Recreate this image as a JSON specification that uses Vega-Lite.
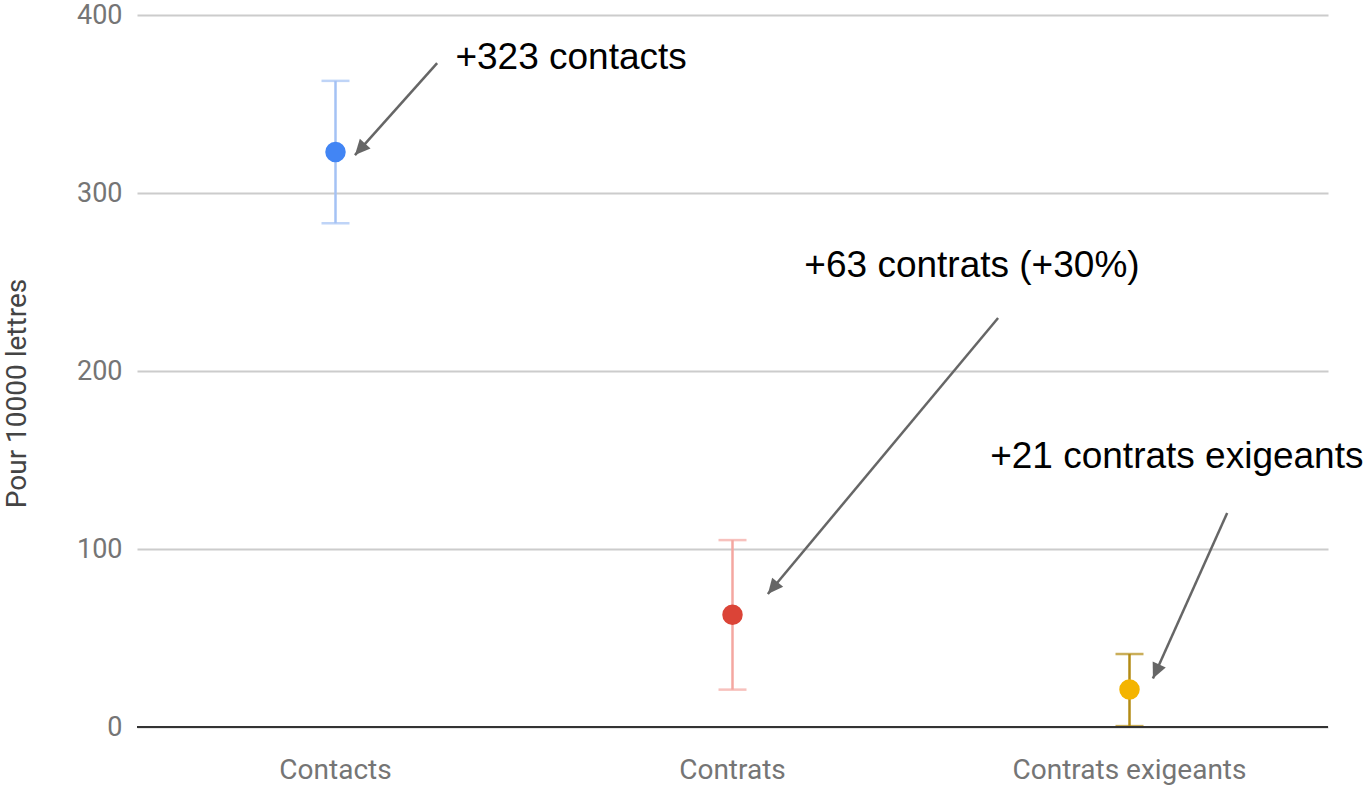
{
  "$schema": "https://vega.github.io/schema/vega-lite/v6.json",
  "width": 1191,
  "height": 712,
  "autosize": {"type": "none"},
  "padding": {"left": 137, "top": 15, "right": 41, "bottom": 59},
  "background": "white",
  "config": {"view": {"stroke": null}},
  "datasets": {
    "main": [
      {"cat": "Contacts", "value": 323, "low": 283, "high": 363},
      {"cat": "Contrats", "value": 63, "low": 21, "high": 105},
      {"cat": "Contrats exigeants", "value": 21, "low": 0.5, "high": 41}
    ],
    "arrows": [
      {"x": 0.756, "y": 373, "x2": 0.549, "y2": 321.3, "angle": 221.7},
      {"x": 2.169, "y": 229.8, "x2": 1.589, "y2": 74.7, "angle": 219.8},
      {"x": 2.746, "y": 120.2, "x2": 2.559, "y2": 27.2, "angle": 204.2}
    ],
    "labels": [
      {"x": 0.802, "y": 369.7, "text": "+323 contacts"},
      {"x": 1.681, "y": 252.8, "text": "+63 contrats (+30%)"},
      {"x": 2.149, "y": 145.5, "text": "+21 contrats exigeants"}
    ]
  },
  "resolve": {"scale": {"x": "independent"}},
  "layer": [
    {
      "data": {"name": "main"},
      "encoding": {
        "x": {
          "field": "cat", "type": "nominal", "sort": null,
          "scale": {"paddingInner": 0, "paddingOuter": 0},
          "axis": {
            "title": null, "labelAngle": 0, "domain": false, "ticks": false,
            "labelFont": "Roboto", "labelFontSize": 28, "labelColor": "#757575",
            "labelPadding": 29, "labelLimit": 0
          }
        },
        "y": {
          "type": "quantitative",
          "scale": {"domain": [0, 400]},
          "axis": {
            "title": "Pour 10000 lettres", "values": [0, 100, 200, 300, 400],
            "titleFont": "Roboto", "titleFontSize": 28, "titleFontWeight": "normal",
            "titleColor": "#444444", "titlePadding": 45, "titleY": 378,
            "labelFont": "Roboto", "labelFontSize": 27, "labelColor": "#757575",
            "labelPadding": 15, "domain": false, "ticks": false,
            "gridColor": "#cccccc", "gridWidth": 2
          }
        }
      },
      "layer": [
        {
          "mark": {"type": "rule", "strokeWidth": 2.5},
          "encoding": {
            "y": {"field": "low", "type": "quantitative"},
            "y2": {"field": "high"},
            "color": {"field": "cat", "type": "nominal", "legend": null,
              "scale": {"domain": ["Contacts", "Contrats", "Contrats exigeants"], "range": ["#a4c2f4", "#f4a7a1", "#b38b14"]}}
          }
        },
        {
          "mark": {"type": "tick", "thickness": 2.5, "size": 28, "orient": "horizontal"},
          "encoding": {
            "y": {"field": "low", "type": "quantitative"},
            "color": {"field": "cat", "type": "nominal", "legend": null}
          }
        },
        {
          "mark": {"type": "tick", "thickness": 2.5, "size": 28, "orient": "horizontal"},
          "encoding": {
            "y": {"field": "high", "type": "quantitative"},
            "color": {"field": "cat", "type": "nominal", "legend": null}
          }
        },
        {
          "mark": {"type": "point", "filled": true, "opacity": 1, "size": 420, "shape": "circle"},
          "encoding": {
            "y": {"field": "value", "type": "quantitative"},
            "fill": {"field": "cat", "type": "nominal", "legend": null,
              "scale": {"domain": ["Contacts", "Contrats", "Contrats exigeants"], "range": ["#4285f4", "#db4437", "#f4b400"]}}
          }
        }
      ]
    },
    {
      "data": {"values": [{"v": 0}]},
      "mark": {"type": "rule", "color": "#333333", "strokeWidth": 2},
      "encoding": {"y": {"field": "v", "type": "quantitative"}}
    },
    {
      "data": {"name": "arrows"},
      "mark": {"type": "rule", "color": "#666666", "strokeWidth": 2.5},
      "encoding": {
        "x": {"field": "x", "type": "quantitative", "scale": {"domain": [0, 3], "nice": false, "zero": false}, "axis": null},
        "y": {"field": "y", "type": "quantitative"},
        "x2": {"field": "x2"},
        "y2": {"field": "y2"}
      }
    },
    {
      "data": {"name": "arrows"},
      "mark": {"type": "point", "filled": true, "opacity": 1, "color": "#666666", "size": 420, "shape": "M0,0L-0.7,1.5L0.7,1.5Z"},
      "encoding": {
        "x": {"field": "x2", "type": "quantitative", "scale": {"domain": [0, 3], "nice": false, "zero": false}, "axis": null},
        "y": {"field": "y2", "type": "quantitative"},
        "angle": {"field": "angle", "type": "quantitative", "scale": null}
      }
    },
    {
      "data": {"name": "labels"},
      "mark": {"type": "text", "align": "left", "baseline": "alphabetic", "font": "Liberation Sans", "fontSize": 37, "color": "#000000"},
      "encoding": {
        "x": {"field": "x", "type": "quantitative", "scale": {"domain": [0, 3], "nice": false, "zero": false}, "axis": null},
        "y": {"field": "y", "type": "quantitative"},
        "text": {"field": "text"}
      }
    }
  ]
}
